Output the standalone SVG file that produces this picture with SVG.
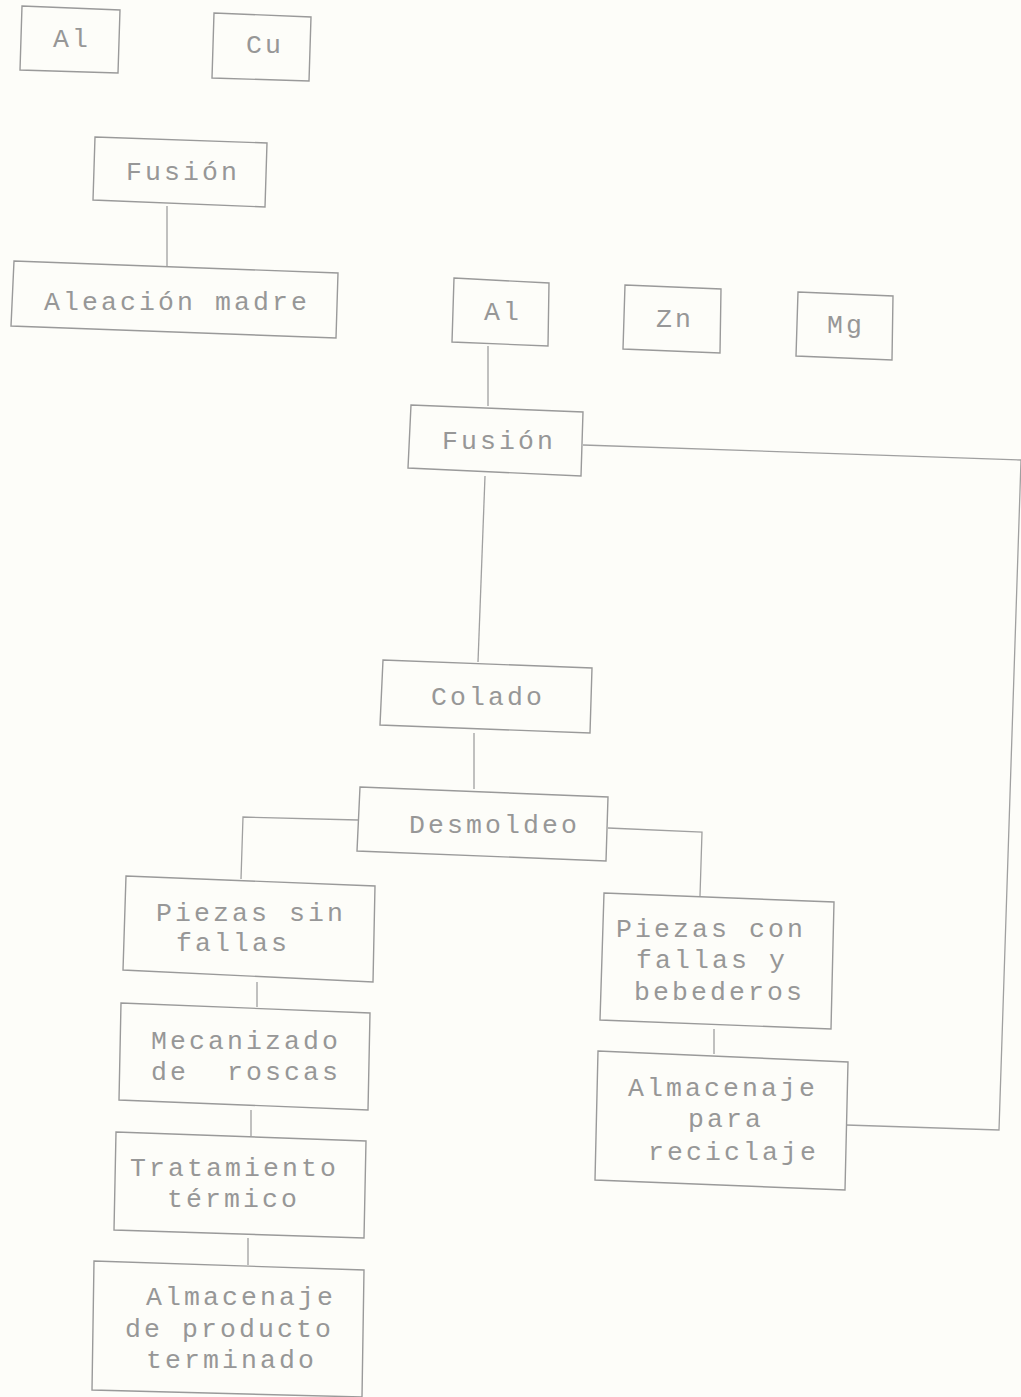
<svg xmlns="http://www.w3.org/2000/svg" width="1021" height="1397" viewBox="0 0 1021 1397">
<style>
.b{fill:none;stroke:#9a9a9a;stroke-width:1.4}
.c{fill:none;stroke:#a0a0a0;stroke-width:1.3}
text{font-family:"Liberation Mono","DejaVu Sans Mono",monospace;font-size:26.5px;letter-spacing:3.1px;fill:#979797;white-space:pre}
</style>
<rect width="1021" height="1397" fill="#fdfdf9"/>
<g id="connectors">
<polyline class="c" points="167,206 167,267"/>
<polyline class="c" points="488,346 488,406"/>
<polyline class="c" points="485,476 478,662"/>
<polyline class="c" points="583,445 1021,460 999,1130 846,1125"/>
<polyline class="c" points="474,733 474,789"/>
<polyline class="c" points="358,820 243,817 241,879"/>
<polyline class="c" points="608,828 702,832 700,896"/>
<polyline class="c" points="257,982 257,1007"/>
<polyline class="c" points="251,1110 251,1136"/>
<polyline class="c" points="248,1238 248,1265"/>
<polyline class="c" points="714,1029 714,1054"/>
</g>
<g id="al1"><polygon class="b" points="22,6 120,10 118,73 20,70"/><text x="53" y="47">Al</text></g>
<g id="cu"><polygon class="b" points="214,13 311,17 309,81 212,78"/><text x="246" y="53">Cu</text></g>
<g id="fusion1"><polygon class="b" points="95,137 267,143 265,207 93,200"/><text x="126" y="180">Fusión</text></g>
<g id="aleacion"><polygon class="b" points="14,261 338,273 336,338 11,326"/><text x="44" y="310">Aleación madre</text></g>
<g id="al2"><polygon class="b" points="454,278 549,283 548,346 452,342"/><text x="484" y="320">Al</text></g>
<g id="zn"><polygon class="b" points="625,285 721,289 720,353 623,349"/><text x="656" y="327">Zn</text></g>
<g id="mg"><polygon class="b" points="798,292 893,296 892,360 796,356"/><text x="827" y="333">Mg</text></g>
<g id="fusion2"><polygon class="b" points="411,405 583,412 581,476 408,468"/><text x="442" y="449">Fusión</text></g>
<g id="colado"><polygon class="b" points="383,660 592,668 590,733 380,725"/><text x="431" y="705">Colado</text></g>
<g id="desmoldeo"><polygon class="b" points="360,787 608,797 606,861 357,851"/><text x="409" y="833">Desmoldeo</text></g>
<g id="sinfallas"><polygon class="b" points="126,876 375,886 373,982 123,970"/><text x="156" y="921">Piezas sin</text><text x="176" y="951">fallas</text></g>
<g id="mecanizado"><polygon class="b" points="121,1003 370,1013 368,1110 119,1100"/><text x="151" y="1049">Mecanizado</text><text x="151" y="1080">de  roscas</text></g>
<g id="tratamiento"><polygon class="b" points="116,1132 366,1141 364,1238 114,1230"/><text x="130" y="1176">Tratamiento</text><text x="167" y="1207">térmico</text></g>
<g id="almprod"><polygon class="b" points="94,1261 364,1270 362,1397 92,1390"/><text x="146" y="1305">Almacenaje</text><text x="125" y="1337">de producto</text><text x="146" y="1368">terminado</text></g>
<g id="confallas"><polygon class="b" points="604,893 834,902 831,1029 600,1020"/><text x="616" y="937">Piezas con</text><text x="636" y="968">fallas y</text><text x="634" y="1000">bebederos</text></g>
<g id="almrec"><polygon class="b" points="598,1051 848,1062 845,1190 595,1180"/><text x="628" y="1096">Almacenaje</text><text x="688" y="1127">para</text><text x="648" y="1160">reciclaje</text></g>
</svg>
